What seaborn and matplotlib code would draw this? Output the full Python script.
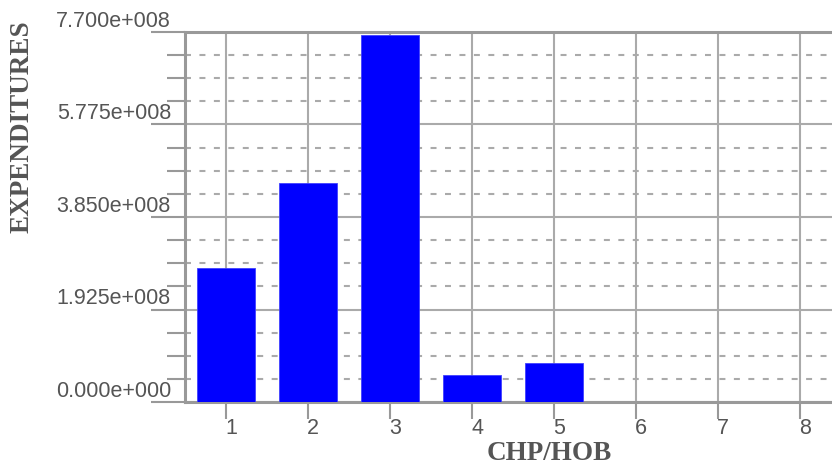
import numpy as np
import pandas as pd
import matplotlib
matplotlib.use("Agg")
import matplotlib.pyplot as plt
import matplotlib.transforms as mtransforms
from matplotlib.ticker import AutoMinorLocator
import seaborn as sns

# Expenditure per CHP/HOB unit
units = ["1", "2", "3", "4", "5", "6", "7", "8"]
expenditures = [2.795e8, 4.564e8, 7.638e8, 5.6e7, 8.2e7, 0.0, 0.0, 0.0]

# Value axis ticks and their labels
y_ticks = [0.0, 1.925e8, 3.85e8, 5.775e8, 7.7e8]
y_tick_labels = ["0.000e+000", "1.925e+008", "3.850e+008", "5.775e+008", "7.700e+008"]

df = pd.DataFrame({"unit": units, "expenditure": expenditures})

sns.set_style("white")
plt.rcParams["lines.scale_dashes"] = False

GRID = "#aaaaaa"
AXIS = "#999999"
TEXT = "#555555"

fig = plt.figure(figsize=(8.32, 4.66), dpi=100)
ax = fig.add_axes([185 / 832, 64 / 466, 656 / 832, 370 / 466])

sns.barplot(data=df, x="unit", y="expenditure", color="#0000ff", saturation=1,
            width=0.7, ax=ax, zorder=3, edgecolor="#4040ff", linewidth=0.6)

ax.set_xlim(-0.5, 7.5)
ax.set_ylim(0, 7.7e8)
ax.set_yticks(y_ticks)
ax.set_yticklabels(y_tick_labels)
ax.yaxis.set_minor_locator(AutoMinorLocator(4))

# grid: solid at major ticks, dashed at minor ticks
ax.set_axisbelow(True)
ax.grid(axis="x", which="major", color=GRID, lw=1.5, ls="-")
ax.grid(axis="y", which="major", color=GRID, lw=1.5, ls="-")
ax.grid(axis="y", which="minor", color=GRID, lw=1.5, ls=(0, (4.3, 6.1)))

ax.tick_params(axis="y", which="major", left=True, length=24.5, width=1.5,
               color=AXIS, pad=-14.4, labelsize=15.5, labelcolor=TEXT)
ax.tick_params(axis="y", which="minor", left=True, length=13, width=1.5, color=AXIS)
ax.tick_params(axis="x", which="major", bottom=True, length=12.5, width=1.5,
               color=AXIS, pad=-1, labelsize=15.5, labelcolor=TEXT)

for lab in ax.get_yticklabels():
    lab.set_verticalalignment("bottom")
    lab.set_fontfamily("Liberation Sans")
shift = mtransforms.ScaledTranslation(5 / 100, 0, fig.dpi_scale_trans)
for lab in ax.get_xticklabels():
    lab.set_fontfamily("Liberation Sans")
    lab.set_transform(lab.get_transform() + shift)

for side in ("left", "bottom", "top"):
    ax.spines[side].set_visible(True)
    ax.spines[side].set_color(AXIS)
    ax.spines[side].set_linewidth(2.2)
ax.spines["right"].set_visible(False)

ax.set_xlabel("")
ax.set_ylabel("")
fig.text(22 / 832, 1 - 127 / 466, "EXPENDITURES", rotation=90, ha="center", va="center",
         fontfamily="Liberation Serif", fontweight="bold", fontsize=19.5, color=TEXT)
fig.text(549 / 832, 1 - 454 / 466, "CHP/HOB", ha="center", va="center",
         fontfamily="Liberation Serif", fontweight="bold", fontsize=19.5, color=TEXT)

fig.savefig("out.png", dpi=100)
